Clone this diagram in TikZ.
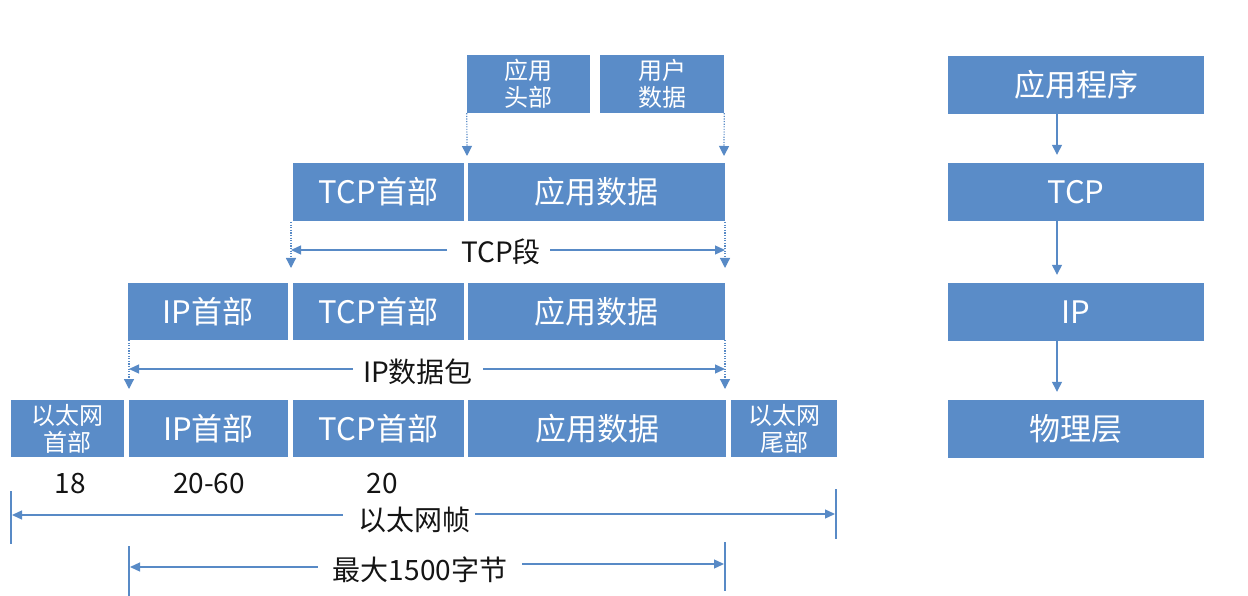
\documentclass[tikz,border=0pt]{standalone}
\usepackage{fontspec}
\setmainfont{Noto Sans CJK SC}
\usetikzlibrary{arrows.meta}
\definecolor{boxblue}{RGB}{90,140,200}
\definecolor{linecol}{RGB}{88,138,198}
\definecolor{labelcol}{RGB}{20,20,20}
\tikzset{
  box/.style={fill=boxblue, text=white, inner sep=0pt, minimum height=58pt,
    font=\fontsize{31}{35}\selectfont},
  smallbox/.style={box, align=center, font=\fontsize{24}{27}\selectfont},
  lbl/.style={text=labelcol, inner sep=0pt, font=\fontsize{28}{32}\selectfont},
  dotarrow/.style={draw=linecol, line width=1.2pt, dash pattern=on 1.2pt off 1.4pt,
    -{Triangle[length=10pt,width=10pt]}},
  harrow/.style={draw=linecol, line width=1.3pt, -{Triangle[length=10pt,width=9pt]}},
  bar/.style={draw=linecol, line width=1.3pt},
  varrow/.style={draw=linecol, line width=1.3pt, -{Triangle[length=10pt,width=10pt]}}
}
\begin{document}
\begin{tikzpicture}[x=1pt,y=-1pt]
\useasboundingbox (0,0) rectangle (1248,596);
% top row
\node[smallbox, minimum width=123pt] (ah) at (528.5,84) {应用\\头部};
\node[smallbox, minimum width=124pt] (ud) at (662,84) {用户\\数据};
% row 2
\node[box, minimum width=171pt] (t2tcp) at (378.5,192) {TCP首部};
\node[box, minimum width=257pt] (t2app) at (596.5,192) {应用数据};
% row 3
\node[box, minimum width=160pt, minimum height=57pt] (r3ip) at (208,311.5) {IP首部};
\node[box, minimum width=171pt, minimum height=57pt] (r3tcp) at (378.5,311.5) {TCP首部};
\node[box, minimum width=257pt, minimum height=57pt] (r3app) at (596.5,311.5) {应用数据};
% row 4
\node[smallbox, minimum width=113pt, minimum height=57pt] (r4eh) at (67.5,428.5) {以太网\\首部};
\node[box, minimum width=159pt, minimum height=57pt] (r4ip) at (208.5,428.5) {IP首部};
\node[box, minimum width=171pt, minimum height=57pt] (r4tcp) at (378.5,428.5) {TCP首部};
\node[box, minimum width=258pt, minimum height=57pt] (r4app) at (597,428.5) {应用数据};
\node[smallbox, minimum width=106pt, minimum height=57pt] (r4et) at (784,428.5) {以太网\\尾部};
% sizes
\node[lbl] (n18) at (70,484) {18};
\node[lbl] (n2060) at (209,484) {20-60};
\node[lbl] (n20) at (382,484) {20};
% right column
\node[box, minimum width=256pt] (rapp) at (1076,85) {应用程序};
\node[box, minimum width=256pt] (rtcp) at (1076,192) {TCP};
\node[box, minimum width=256pt] (rip) at (1076,312) {IP};
\node[box, minimum width=256pt] (rphy) at (1076,429) {物理层};
\draw[varrow] ([xshift=-19pt]rapp.south) -- ([xshift=-19pt,yshift=8pt]rtcp.north);
\draw[varrow] ([xshift=-19pt]rtcp.south) -- ([xshift=-19pt,yshift=8pt]rip.north);
\draw[varrow] ([xshift=-19pt]rip.south) -- ([xshift=-19pt,yshift=8pt]rphy.north);
% dotted arrows top -> row 2
\coordinate (d1) at (467,156);
\coordinate (d2) at (724,156);
\draw[dotarrow] (ah.south west) -- (d1);
\draw[dotarrow] (ud.south east) -- (d2);
% TCP segment
\coordinate (t1a) at (291,222);
\coordinate (t1b) at (291,268);
\coordinate (t2a) at (725,222);
\coordinate (t2b) at (725,268);
\draw[dotarrow] (t1a) -- (t1b);
\draw[dotarrow] (t2a) -- (t2b);
\node[lbl] (tcpseg) at (501,252) {TCP段};
\coordinate (tl) at (291,250);
\coordinate (tr) at (725,250);
\draw[harrow] ([xshift=-14pt,yshift=2pt]tcpseg.west) -- (tl);
\draw[harrow] ([xshift=9pt,yshift=2pt]tcpseg.east) -- (tr);
% IP packet
\coordinate (i1a) at (129,340);
\coordinate (i1b) at (129,389);
\coordinate (i2a) at (725,340);
\coordinate (i2b) at (725,389);
\draw[dotarrow] (i1a) -- (i1b);
\draw[dotarrow] (i2a) -- (i2b);
\node[lbl] (ippkt) at (418,372) {IP数据包};
\coordinate (il) at (129,369);
\coordinate (ir) at (725,369);
\draw[harrow] ([xshift=-10pt,yshift=3pt]ippkt.west) -- (il);
\draw[harrow] ([xshift=10pt,yshift=3pt]ippkt.east) -- (ir);
% Ethernet frame
\coordinate (e1a) at (11,491);
\coordinate (e1b) at (11,544);
\coordinate (e2a) at (836,489);
\coordinate (e2b) at (836,539);
\draw[bar] (e1a) -- (e1b);
\draw[bar] (e2a) -- (e2b);
\node[lbl] (ethf) at (414,520) {以太网帧};
\coordinate (el) at (12,515);
\coordinate (er) at (835,514);
\draw[harrow] ([xshift=-15pt,yshift=5pt]ethf.west) -- (el);
\draw[harrow] ([xshift=5pt,yshift=6pt]ethf.east) -- (er);
% max 1500
\coordinate (m1a) at (129,546);
\coordinate (m1b) at (129,596);
\coordinate (m2a) at (725,542);
\coordinate (m2b) at (725,591);
\draw[bar] (m1a) -- (m1b);
\draw[bar] (m2a) -- (m2b);
\node[lbl] (mx) at (420,570) {最大1500字节};
\coordinate (ml) at (130,567);
\coordinate (mr) at (724,564);
\draw[harrow] ([xshift=-15pt,yshift=3pt]mx.west) -- (ml);
\draw[harrow] ([xshift=15pt,yshift=6pt]mx.east) -- (mr);
\end{tikzpicture}
\end{document}
